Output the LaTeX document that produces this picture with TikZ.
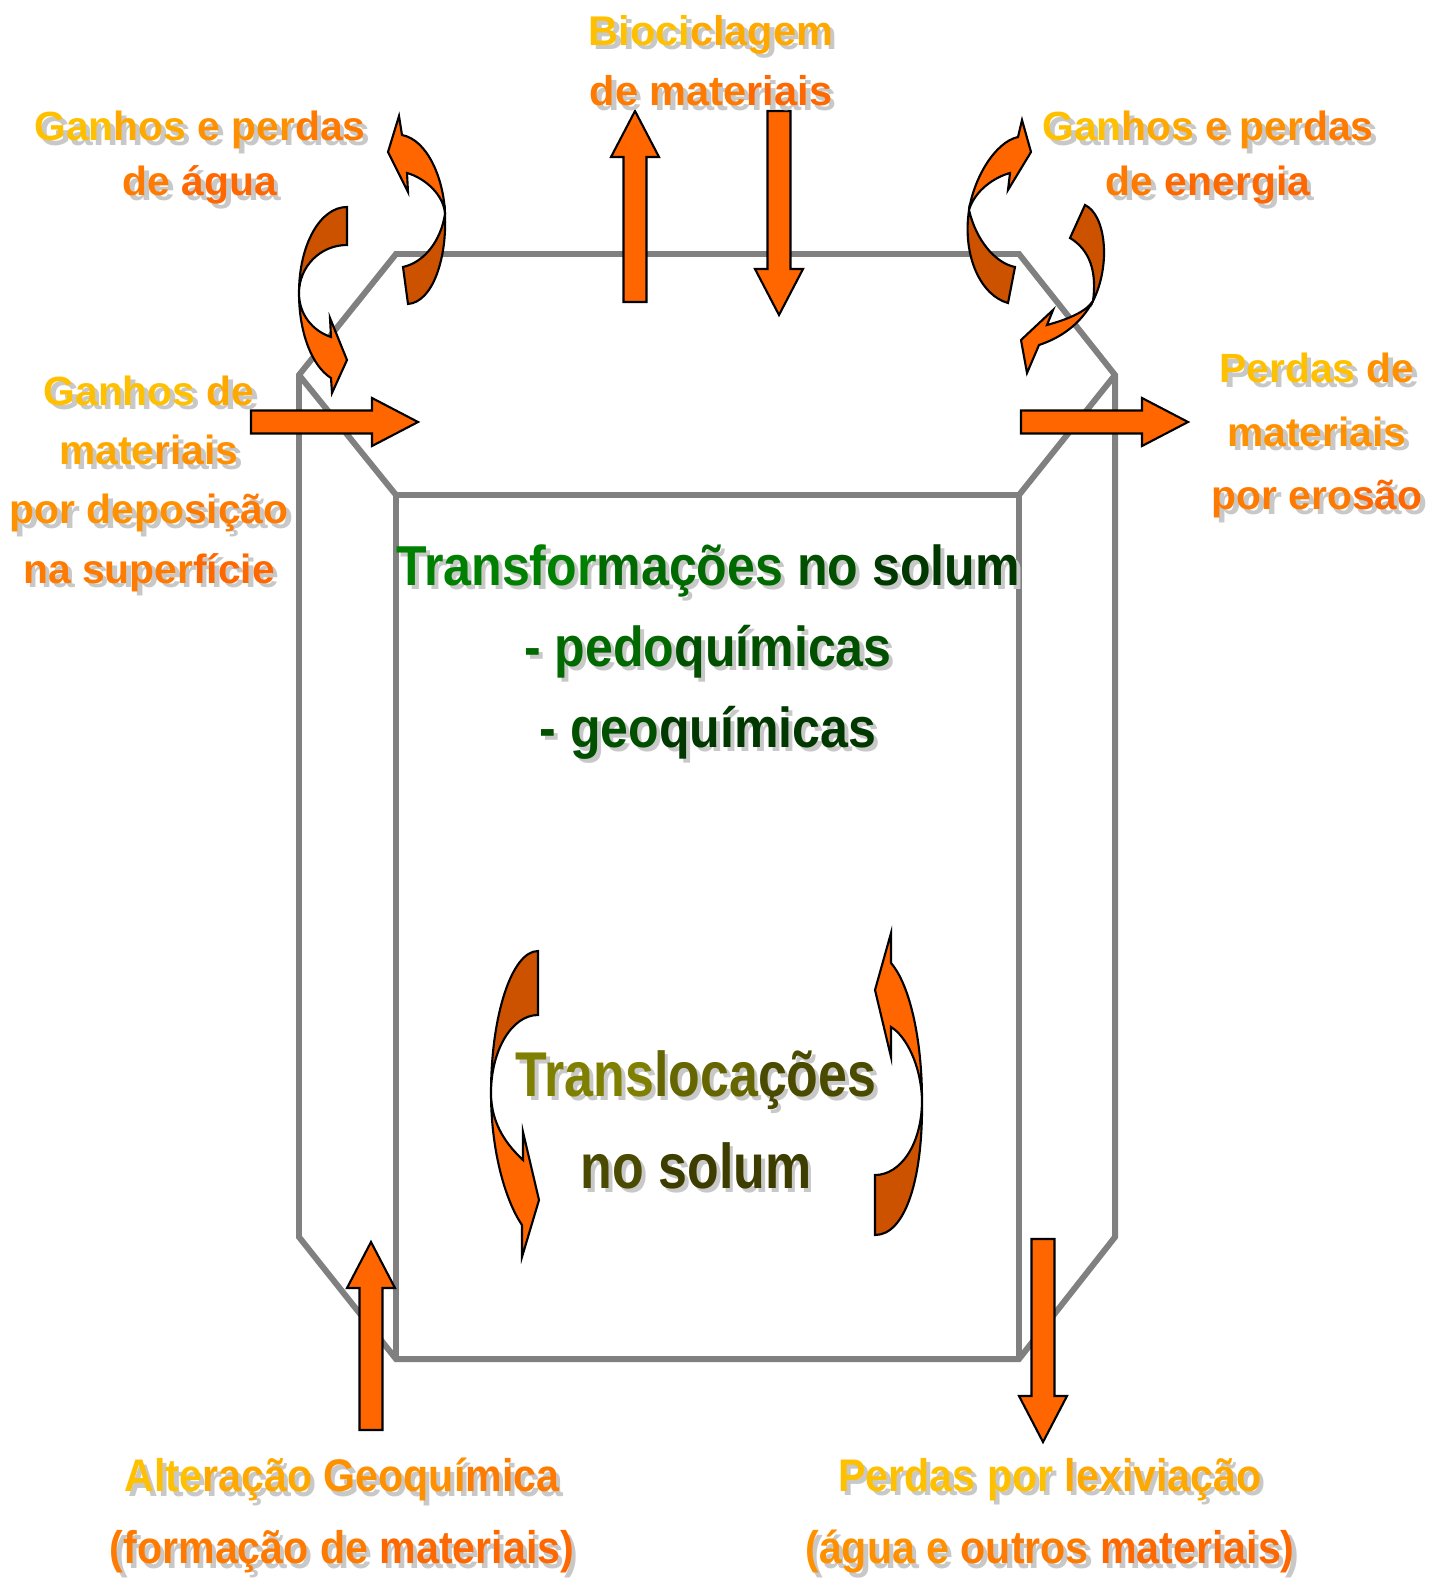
\documentclass[tikz,border=0pt]{standalone}
\usepackage{fontspec}
\setmainfont{Liberation Sans}
\usepackage{graphicx}

\definecolor{laranja}{HTML}{FF6600}
\definecolor{laranjaesc}{HTML}{CC5200}
\definecolor{cinza}{HTML}{808080}
\definecolor{sombra}{HTML}{C8C8C8}
\definecolor{am1}{HTML}{FFC000}
\definecolor{am2}{HTML}{FFA800}
\definecolor{am3}{HTML}{FF9000}
\definecolor{am4}{HTML}{FF7A00}
\definecolor{am5}{HTML}{FF6800}
\definecolor{vd1}{HTML}{008000}
\definecolor{vd2}{HTML}{006A00}
\definecolor{vd3}{HTML}{005000}
\definecolor{vd4}{HTML}{003800}
\definecolor{ol1}{HTML}{808000}
\definecolor{ol2}{HTML}{666600}
\definecolor{ol3}{HTML}{4A4A00}
\definecolor{ol4}{HTML}{3D3D00}

\newif\ifsombra
\newcommand{\pinta}[2]{\ifsombra #2\else\textcolor{#1}{#2}\fi}
\newcommand{\sombreado}[2][1.3pt]{\makebox[0pt][l]{\sombratrue\color{sombra}\hspace{#1}\raisebox{-#1}{#2}}#2}
\newcommand{\estreito}[2]{\scalebox{#1}[1]{#2}}

\tikzset{
  rotulo/.style={align=center, inner sep=0pt},
  moldura/.style={draw=cinza, line width=1.7pt},
  seta/.style={fill=laranja, draw=black, line width=0.6pt},
  setaesc/.style={fill=laranjaesc, draw=black, line width=0.6pt},
  pics/blocoseta/.style={code={
    \draw[seta] (0,-11.5) -- ({#1-46},-11.5) -- ({#1-46},-24) -- (#1,0)
      -- ({#1-46},24) -- ({#1-46},11.5) -- (0,11.5) -- cycle;
  }},
}

\begin{document}
\begin{tikzpicture}[x=0.01cm, y=-0.01cm]
  \useasboundingbox (0,0) rectangle (1441,1579);

  % 枠を描く
  \draw[moldura] (396,254) -- (1019,254) -- (1115,375) -- (1115,1237) -- (1019,1359)
    -- (396,1359) -- (299,1237) -- (299,375) -- cycle;
  \draw[moldura] (299,375) -- (396,495) -- (1019,495) -- (1115,375);
  \draw[moldura] (396,495) -- (396,1359);
  \draw[moldura] (1019,495) -- (1019,1359);

  % 矢印
  \pic[rotate=90] at (635,302) {blocoseta=191};
  \pic[rotate=-90] at (779,111) {blocoseta=204};
  \pic at (251,422) {blocoseta=167};
  \pic at (1021,422) {blocoseta=167};
  \pic[rotate=90] at (371,1430) {blocoseta=188};
  \pic[rotate=-90] at (1043,1239) {blocoseta=203};

  % 曲がった矢印
  \draw[setaesc] (347,207) .. controls (320,207) and (299,245) .. (299,293)
    .. controls (299,267) and (320,245) .. (347,245) -- cycle;
  \draw[seta] (299,293) .. controls (299,333) and (312,366) .. (331,378) -- (332,393)
    -- (347,360) -- (330,318) -- (331,337) .. controls (313,331) and (299,315) .. (299,293) -- cycle;

  \draw[setaesc] (408,304) .. controls (433,302) and (447,258) .. (445,214)
    .. controls (441,240) and (425,262) .. (403,267) -- cycle;
  \draw[seta] (445,214) .. controls (444,180) and (428,140) .. (402,135) -- (399,116)
    -- (388,152) -- (408,192) -- (407,173) .. controls (425,178) and (444,195) .. (445,214) -- cycle;

  \draw[setaesc] (969,210) .. controls (976,240) and (995,263) .. (1015,267) -- (1008,303)
    .. controls (982,296) and (962,258) .. (969,210) -- cycle;
  \draw[seta] (969,210) .. controls (974,178) and (995,142) .. (1018,137) -- (1022,120)
    -- (1031,152) -- (1008,190) -- (1010,173) .. controls (995,177) and (975,190) .. (969,210) -- cycle;

  \draw[setaesc] (1085,205) .. controls (1106,215) and (1111,265) .. (1093,301)
    .. controls (1097,272) and (1090,250) .. (1070,238) -- cycle;
  \draw[seta] (1093,301) .. controls (1080,325) and (1060,338) .. (1039,345) -- (1027,373)
    -- (1021,340) -- (1053,310) -- (1047,325) .. controls (1065,320) and (1085,313) .. (1093,301) -- cycle;

  \draw[setaesc] (538,951) .. controls (512,951) and (491,1015) .. (491,1093)
    .. controls (491,1050) and (512,1015) .. (538,1015) -- cycle;
  \draw[seta] (491,1093) .. controls (491,1150) and (505,1200) .. (522,1225) -- (522,1257)
    -- (539,1200) -- (523,1132) -- (523,1160) .. controls (508,1146) and (491,1125) .. (491,1093) -- cycle;

  \draw[setaesc] (922,1100) .. controls (922,1145) and (900,1175) .. (875,1175) -- (875,1235)
    .. controls (905,1235) and (923,1180) .. (922,1100) -- cycle;
  \draw[seta] (922,1100) .. controls (922,1040) and (910,985) .. (891,963) -- (891,933)
    -- (875,990) -- (891,1057) -- (891,1027) .. controls (906,1036) and (921,1065) .. (922,1100) -- cycle;

  % 文字を入れる
  \node[rotulo, font=\bfseries\fontsize{11.8}{17.3}\selectfont] (bio) at (711,63)
    {\sombreado{\pinta{am1}{Bioci}\pinta{am2}{clagem}}\\
     \sombreado{\pinta{am4}{de mate}\pinta{am5}{riais}}};
  \node[rotulo, font=\bfseries\fontsize{11.6}{15.6}\selectfont] (agua) at (200,160)
    {\sombreado{\pinta{am1}{Gan}\pinta{am2}{hos} \pinta{am3}{e per}\pinta{am4}{das}}\\
     \sombreado{\pinta{am4}{de }\pinta{am5}{água}}};
  \node[rotulo, font=\bfseries\fontsize{11.6}{15.6}\selectfont] (energia) at (1208,160)
    {\sombreado{\pinta{am1}{Gan}\pinta{am2}{hos} \pinta{am3}{e per}\pinta{am4}{das}}\\
     \sombreado{\pinta{am4}{de }\pinta{am5}{energia}}};
  \node[rotulo, font=\bfseries\fontsize{11.6}{16.9}\selectfont] (dep) at (149,486)
    {\sombreado{\pinta{am1}{Ganhos} \pinta{am2}{de}}\\
     \sombreado{\pinta{am2}{mate}\pinta{am3}{riais}}\\
     \sombreado{\pinta{am3}{por depo}\pinta{am4}{sição}}\\
     \sombreado{\pinta{am4}{na super}\pinta{am5}{fície}}};
  \node[rotulo, font=\bfseries\fontsize{11.6}{18}\selectfont] (eros) at (1317,438)
    {\sombreado{\pinta{am1}{Perdas} \pinta{am3}{de}}\\
     \sombreado{\pinta{am3}{materiais}}\\
     \sombreado{\pinta{am4}{por ero}\pinta{am5}{são}}};
  \node[rotulo, font=\bfseries\fontsize{16}{23}\selectfont] (transf) at (708,654)
    {\estreito{0.89}{\sombreado{\pinta{vd1}{Transfor}\pinta{vd2}{mações} \pinta{vd3}{no} \pinta{vd4}{solum}}}\\
     \estreito{0.89}{\sombreado{\pinta{vd2}{- pedo}\pinta{vd3}{químicas}}}\\
     \estreito{0.89}{\sombreado{\pinta{vd3}{- geo}\pinta{vd4}{químicas}}}};
  \node[rotulo, font=\bfseries\fontsize{18}{26.2}\selectfont] (transl) at (696,1122)
    {\estreito{0.82}{\sombreado{\pinta{ol1}{Trans}\pinta{ol2}{loca}\pinta{ol3}{ções}}}\\
     \estreito{0.82}{\sombreado{\pinta{ol3}{no }\pinta{ol4}{solum}}}};
  \node[rotulo, font=\bfseries\fontsize{13}{20.6}\selectfont] (alt) at (342,1518)
    {\estreito{0.9}{\sombreado{\pinta{am1}{Alte}\pinta{am2}{ração} \pinta{am3}{Geoquí}\pinta{am4}{mica}}}\\
     \estreito{0.9}{\sombreado{\pinta{am4}{(formação de} \pinta{am5}{materiais)}}}};
  \node[rotulo, font=\bfseries\fontsize{13}{20.6}\selectfont] (lex) at (1050,1518)
    {\estreito{0.9}{\sombreado{\pinta{am1}{Perdas por} \pinta{am2}{lexiviação}}}\\
     \estreito{0.9}{\sombreado{\pinta{am3}{(água e} \pinta{am4}{outros} \pinta{am5}{materiais)}}}};
\end{tikzpicture}
\end{document}
